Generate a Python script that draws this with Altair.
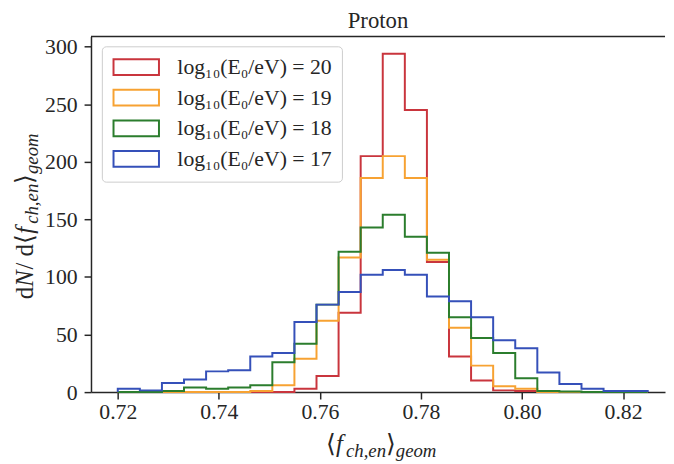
import altair as alt
import pandas as pd

# ---------------- data ----------------
bin_start = 0.72
bin_width = 0.00437
n_bins = 24

series_labels = ["log₁₀(E₀/eV) = 20", "log₁₀(E₀/eV) = 19",
                 "log₁₀(E₀/eV) = 18", "log₁₀(E₀/eV) = 17"]
series_colors = ["#c9353d", "#f7a232", "#2b7d2d", "#3550b9"]

counts_e20 = [0, 0, 0, 0, 0, 0, 0, 0, 3, 14, 69, 205, 294, 245, 113, 31, 10, 1.5, 1, 0, 0, 0, 0, 0]
counts_e19 = [0, 0, 0, 0, 0, 0, 1, 6, 29, 62, 117, 186, 205, 186, 115, 56, 23, 5, 3, 0, 0, 0, 0, 0]
counts_e18 = [0, 0, 1, 4, 3, 4, 6, 26, 42, 76, 122, 143, 154, 135, 121, 65, 47, 34, 12, 1, 0.5, 0, 0, 0]
counts_e17 = [3, 1.5, 8, 11, 18, 19, 31, 34, 61, 76, 87, 102, 106, 102, 83, 79, 65, 45, 38, 17, 7, 3, 1, 1]

x_ticks = [0.72, 0.74, 0.76, 0.78, 0.80, 0.82]
y_ticks = [0, 50, 100, 150, 200, 250, 300]
x_domain = [0.7147, 0.8283]
y_domain = [0, 309]

chart_title = "Proton"

# ---------------- build step outline table ----------------
edges = [bin_start + i * bin_width for i in range(n_bins + 1)]
rows = []
for name, counts in zip(series_labels, [counts_e20, counts_e19, counts_e18, counts_e17]):
    pts = [(edges[0], 0)] + [(edges[i], counts[i]) for i in range(n_bins)] \
        + [(edges[-1], counts[-1]), (edges[-1], 0)]
    for k, (xv, yv) in enumerate(pts):
        rows.append({"series": name, "x": xv, "y": yv, "k": k})
df = pd.DataFrame(rows)

W, H = 581, 360
SERIF = "Liberation Serif"
INK = "#262626"
NB = "\u00a0"

xscale = alt.Scale(domain=x_domain, nice=False, zero=False)
yscale = alt.Scale(domain=y_domain, nice=False, zero=True)

lines = alt.Chart(df).mark_line(interpolate="step-after", strokeWidth=2).encode(
    x=alt.X("x:Q", scale=xscale,
            axis=alt.Axis(values=x_ticks, format=".2f", title=None, grid=False,
                          labelFont=SERIF, labelFontSize=22, labelColor=INK,
                          tickSize=7, tickWidth=1.5, tickColor=INK, labelPadding=3,
                          domainColor=INK, domainWidth=1.5)),
    y=alt.Y("y:Q", scale=yscale,
            axis=alt.Axis(values=y_ticks, title=None, grid=False,
                          labelFont=SERIF, labelFontSize=22, labelColor=INK,
                          tickSize=7, tickWidth=1.5, tickColor=INK, labelPadding=7,
                          domainColor=INK, domainWidth=1.5)),
    color=alt.Color("series:N",
                    scale=alt.Scale(domain=series_labels, range=series_colors),
                    legend=alt.Legend(
                        title=None, orient="none", legendX=11, legendY=10,
                        symbolType="M-2.5,-0.87L2.5,-0.87L2.5,0.87L-2.5,0.87Z",
                        symbolSize=338.6, symbolStrokeWidth=2, symbolOffset=13.8,
                        symbolFillColor="white",
                        labelFont=SERIF, labelFontSize=22, labelColor=INK,
                        labelOffset=30.6, labelLimit=400,
                        rowPadding=5, padding=10,
                        fillColor="white", strokeColor="#cccccc", cornerRadius=4)),
    order=alt.Order("k:Q"),
)

# top spine of the frame
top_spine = alt.Chart(pd.DataFrame({"k": [0]})).mark_rule(
    color=INK, strokeWidth=1.5).encode(
    x=alt.value(0), x2=alt.value(W), y=alt.value(0))

# ---------------- composite axis titles (with subscripts) ----------------
slash_piece = NB + "/" + NB + "d⟨"
widths_em = {"d": 0.5, "N": 0.70, slash_piece: 1.45, "f": 0.40, "ch,en": 2.14,
             "⟩": 0.39, "geom": 2.17, "⟨": 0.39}

def piece_len(t, s):
    return widths_em[t] * s

pieces_y = [  # text, size, italic, subscript
    ("d", 25, False, False),
    ("N", 25, True, False),
    (slash_piece, 25, False, False),
    ("f", 25, True, False),
    ("ch,en", 19, True, True),
    ("⟩", 25, False, False),
    ("geom", 19, True, True),
]
pieces_x = [
    ("⟨", 25, False, False),
    ("f", 25, True, False),
    ("ch,en", 19, True, True),
    ("⟩", 25, False, False),
    ("geom", 19, True, True),
]

title_layers = []

total_y = sum(piece_len(t, s) for t, s, _, _ in pieces_y)
pos = 182 + total_y / 2
for t, s, it, sub in pieces_y:
    d = pd.DataFrame({"t": [t]})
    title_layers.append(
        alt.Chart(d).mark_text(angle=270, align="left", baseline="alphabetic",
                               font=SERIF, fontSize=s, color=INK,
                               fontStyle="italic" if it else "normal").encode(
            x=alt.value(-59 + (5 if sub else 0)), y=alt.value(pos), text="t:N")
    )
    pos -= piece_len(t, s)

total_x = sum(piece_len(t, s) for t, s, _, _ in pieces_x)
pos = 294 - total_x / 2
for t, s, it, sub in pieces_x:
    d = pd.DataFrame({"t": [t]})
    title_layers.append(
        alt.Chart(d).mark_text(align="left", baseline="alphabetic",
                               font=SERIF, fontSize=s, color=INK,
                               fontStyle="italic" if it else "normal").encode(
            x=alt.value(pos), y=alt.value(H + 61 + (5 if sub else 0)), text="t:N")
    )
    pos += piece_len(t, s)

chart = alt.layer(lines, top_spine, *title_layers).properties(
    width=W, height=H,
    title=alt.TitleParams(chart_title, font=SERIF, fontSize=23, fontWeight="normal",
                          color=INK, anchor="middle", offset=3),
    padding={"left": 84, "top": 26, "right": 1, "bottom": 70},
    autosize=alt.AutoSizeParams(type="none"),
).configure_view(stroke=None)

chart.save("out.html", embed_options={"renderer": "svg", "actions": False})
